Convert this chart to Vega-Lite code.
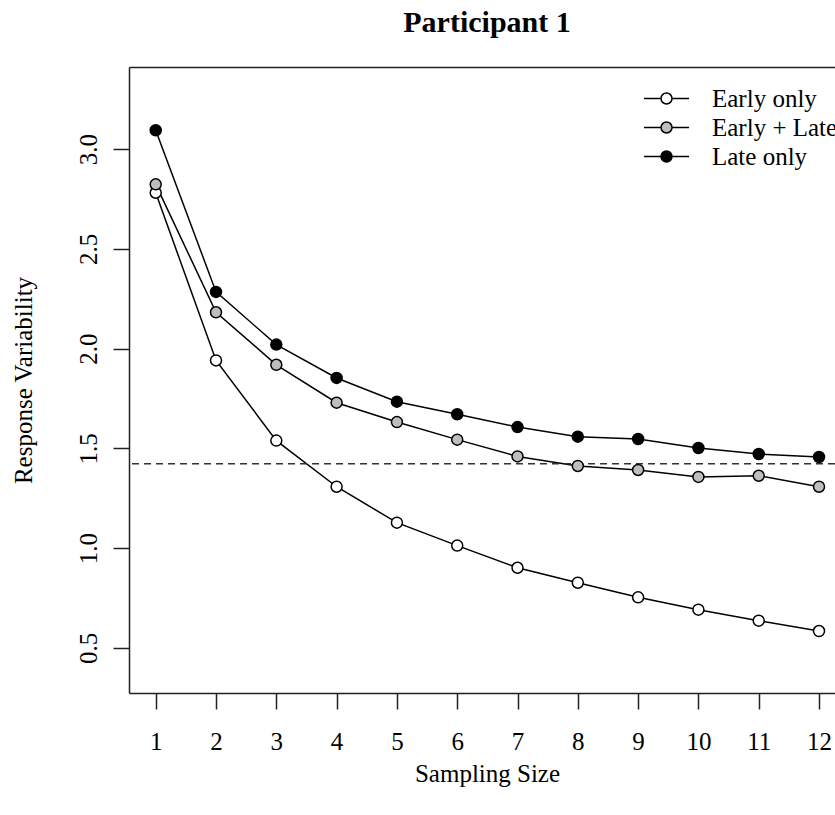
{
  "$schema": "https://vega.github.io/schema/vega-lite/v6.json",
  "width": 706,
  "height": 626,
  "autosize": {"type": "none"},
  "padding": {"left": 129, "top": 67, "right": 0, "bottom": 122},
  "background": "white",
  "config": {"view": {"stroke": null}, "font": "Liberation Serif"},
  "title": {"text": "Participant 1", "fontSize": 30, "fontWeight": "bold", "font": "Liberation Serif", "color": "black", "anchor": "middle", "frame": "group", "dx": 5, "offset": 5, "baseline": "alphabetic"},
  "data": {"values": [
    {"n": 1, "v": 2.781, "s": "Early only"},
    {"n": 2, "v": 1.941, "s": "Early only"},
    {"n": 3, "v": 1.539, "s": "Early only"},
    {"n": 4, "v": 1.308, "s": "Early only"},
    {"n": 5, "v": 1.128, "s": "Early only"},
    {"n": 6, "v": 1.013, "s": "Early only"},
    {"n": 7, "v": 0.902, "s": "Early only"},
    {"n": 8, "v": 0.827, "s": "Early only"},
    {"n": 9, "v": 0.754, "s": "Early only"},
    {"n": 10, "v": 0.692, "s": "Early only"},
    {"n": 11, "v": 0.637, "s": "Early only"},
    {"n": 12, "v": 0.585, "s": "Early only"},
    {"n": 1, "v": 2.823, "s": "Early + Late"},
    {"n": 2, "v": 2.182, "s": "Early + Late"},
    {"n": 3, "v": 1.919, "s": "Early + Late"},
    {"n": 4, "v": 1.729, "s": "Early + Late"},
    {"n": 5, "v": 1.632, "s": "Early + Late"},
    {"n": 6, "v": 1.544, "s": "Early + Late"},
    {"n": 7, "v": 1.460, "s": "Early + Late"},
    {"n": 8, "v": 1.412, "s": "Early + Late"},
    {"n": 9, "v": 1.392, "s": "Early + Late"},
    {"n": 10, "v": 1.357, "s": "Early + Late"},
    {"n": 11, "v": 1.363, "s": "Early + Late"},
    {"n": 12, "v": 1.308, "s": "Early + Late"},
    {"n": 1, "v": 3.094, "s": "Late only"},
    {"n": 2, "v": 2.284, "s": "Late only"},
    {"n": 3, "v": 2.020, "s": "Late only"},
    {"n": 4, "v": 1.853, "s": "Late only"},
    {"n": 5, "v": 1.734, "s": "Late only"},
    {"n": 6, "v": 1.671, "s": "Late only"},
    {"n": 7, "v": 1.607, "s": "Late only"},
    {"n": 8, "v": 1.559, "s": "Late only"},
    {"n": 9, "v": 1.547, "s": "Late only"},
    {"n": 10, "v": 1.502, "s": "Late only"},
    {"n": 11, "v": 1.472, "s": "Late only"},
    {"n": 12, "v": 1.457, "s": "Late only"}
  ]},
  "resolve": {"axis": {"x": "independent"}},
  "layer": [
    {
      "mark": {"type": "line", "color": "black", "strokeWidth": 1.5},
      "encoding": {
        "x": {"field": "n", "type": "quantitative",
          "scale": {"domain": [0.557, 12.265], "nice": false, "zero": false},
          "axis": {"orient": "bottom", "values": [1,2,3,4,5,6,7,8,9,10,11,12], "format": "d", "grid": false,
            "domainColor": "#222222", "domainWidth": 1.5, "tickColor": "#222222", "tickWidth": 1.5, "tickSize": 16,
            "labelFont": "Liberation Serif", "labelFontSize": 25, "labelColor": "black", "labelBaseline": "alphabetic", "labelPadding": 40,
            "labelFlush": false, "labelOverlap": false,
            "title": "Sampling Size", "titleFont": "Liberation Serif", "titleFontSize": 25, "titleFontWeight": "normal", "titleColor": "black",
            "titleX": 358, "titleY": 88, "titleBaseline": "alphabetic", "titleAlign": "center", "titleAnchor": null}},
        "y": {"field": "v", "type": "quantitative",
          "scale": {"domain": [0.2745, 3.411], "nice": false, "zero": false},
          "axis": {"orient": "left", "values": [0.5, 1, 1.5, 2, 2.5, 3], "format": ".1f", "grid": false,
            "domainColor": "#222222", "domainWidth": 1.5, "tickColor": "#222222", "tickWidth": 1.5, "tickSize": 16,
            "labelFont": "Liberation Serif", "labelFontSize": 25, "labelColor": "black", "labelAngle": -90, "labelAlign": "center", "labelBaseline": "alphabetic", "labelPadding": 17,
            "labelFlush": false, "labelOverlap": false,
            "title": "Response Variability", "titleFont": "Liberation Serif", "titleFontSize": 25, "titleFontWeight": "normal", "titleColor": "black",
            "titleAngle": -90, "titleX": -98, "titleY": 313, "titleBaseline": "alphabetic", "titleAlign": "center", "titleAnchor": null}},
        "detail": {"field": "s", "type": "nominal"}
      }
    },
    {
      "data": {"values": [{"ref": 1.423}]},
      "mark": {"type": "rule", "strokeDash": [7, 5], "strokeWidth": 1.5, "color": "#333333"},
      "encoding": {
        "y": {"field": "ref", "type": "quantitative"}
      }
    },
    {
      "mark": {"type": "point", "shape": "circle", "filled": true, "size": 121, "stroke": "black", "strokeWidth": 1.5, "opacity": 1},
      "encoding": {
        "x": {"field": "n", "type": "quantitative",
          "axis": {"orient": "top", "labels": false, "ticks": false, "grid": false, "title": null, "domainColor": "#222222", "domainWidth": 1.5}},
        "y": {"field": "v", "type": "quantitative"},
        "fill": {"field": "s", "type": "nominal",
          "scale": {"domain": ["Early only", "Early + Late", "Late only"], "range": ["white", "#bebebe", "black"]},
          "legend": {"title": null, "orient": "none", "legendX": 525, "legendY": 19,
            "symbolType": "M-4.1,0H-1M1,0H4.1M-1,0A1,1,0,1,0,1,0A1,1,0,1,0,-1,0Z",
            "symbolSize": 121, "symbolStrokeColor": "black", "symbolStrokeWidth": 1.5, "symbolOpacity": 1,
            "labelFont": "Liberation Serif", "labelFontSize": 25, "labelColor": "black", "labelOffset": 33, "labelLimit": 400,
            "rowPadding": 3, "padding": 0}}
      }
    }
  ]
}
